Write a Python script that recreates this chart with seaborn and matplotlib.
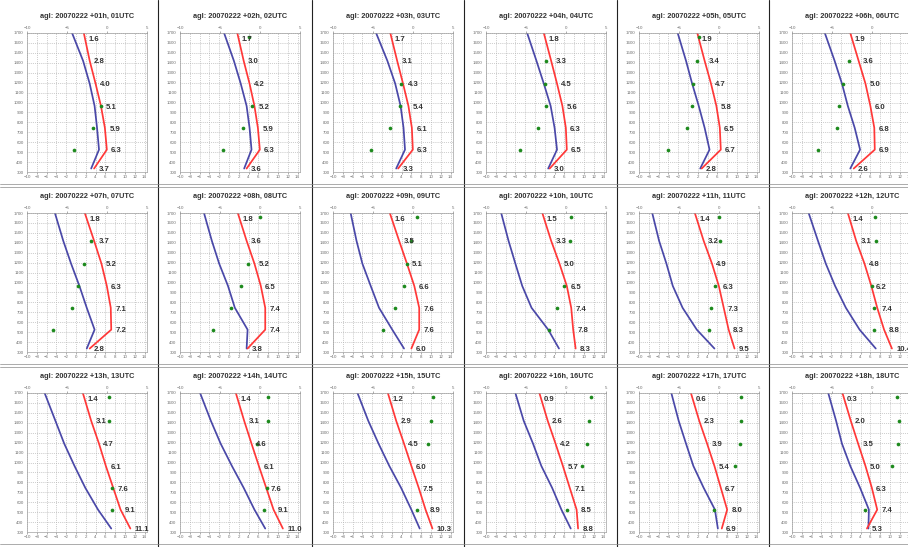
import numpy as np
import matplotlib
matplotlib.use("Agg")
import matplotlib.pyplot as plt
import seaborn as sns
from matplotlib.lines import Line2D

sns.set_theme(style="white")
plt.rcParams['font.family'] = ['Liberation Sans', 'DejaVu Sans']

# ---------------- data ----------------
hours = list(range(1, 19))
levels = [335, 525, 745, 965, 1190, 1420, 1700]          # model levels (m agl)
obs_levels = [525, 745, 965, 1190, 1420, 1655]           # observation heights

red_temp = [
    [3.7, 6.3, 5.9, 5.1, 4.0, 2.8, 1.6],
    [3.6, 6.3, 5.9, 5.2, 4.2, 3.0, 1.7],
    [3.3, 6.3, 6.1, 5.4, 4.3, 3.1, 1.7],
    [3.0, 6.5, 6.3, 5.6, 4.5, 3.3, 1.8],
    [2.8, 6.7, 6.5, 5.8, 4.7, 3.4, 1.9],
    [2.6, 6.9, 6.8, 6.0, 5.0, 3.6, 1.9],
    [2.8, 7.2, 7.1, 6.3, 5.2, 3.7, 1.8],
    [3.8, 7.4, 7.4, 6.5, 5.2, 3.6, 1.8],
    [6.0, 7.6, 7.6, 6.6, 5.1, 3.5, 1.6],
    [8.3, 7.8, 7.4, 6.5, 5.0, 3.3, 1.5],
    [9.5, 8.3, 7.3, 6.3, 4.9, 3.2, 1.4],
    [10.4, 8.8, 7.4, 6.2, 4.8, 3.1, 1.4],
    [11.1, 9.1, 7.6, 6.1, 4.7, 3.1, 1.4],
    [11.0, 9.1, 7.6, 6.1, 4.6, 3.1, 1.4],
    [10.3, 8.9, 7.5, 6.0, 4.5, 2.9, 1.2],
    [8.8, 8.5, 7.1, 5.7, 4.2, 2.6, 0.9],
    [6.9, 8.0, 6.7, 5.4, 3.9, 2.3, 0.6],
    [5.3, 7.4, 6.3, 5.0, 3.5, 2.0, 0.3],
]

blue_temp = [
    [3.1, 4.7, 4.3, 3.8, 2.8, 1.45, -0.8],
    [3.1, 4.6, 4.2, 3.6, 2.4, 1.0, -1.0],
    [2.9, 4.7, 4.4, 3.8, 2.7, 1.1, -1.2],
    [2.7, 4.5, 4.0, 3.2, 1.8, 0.3, -1.6],
    [2.5, 4.4, 3.4, 2.2, 0.85, -0.4, -2.1],
    [1.9, 3.9, 2.8, 1.4, 0.2, -1.3, -3.3],
    [2.2, 3.8, 2.2, 0.7, -1.0, -2.6, -4.3],
    [3.6, 3.8, 1.2, -0.2, -2.0, -3.5, -5.1],
    [4.5, 2.1, -0.6, -2.3, -4.0, -5.2, -6.4],
    [4.9, 2.7, -0.7, -2.6, -4.0, -5.4, -6.9],
    [5.4, 1.8, -1.1, -3.1, -4.4, -5.9, -7.3],
    [7.1, 3.8, 1.0, -1.2, -3.1, -4.7, -6.6],
    [7.2, 4.5, 1.9, -0.3, -2.4, -4.2, -6.4],
    [7.4, 5.2, 3.0, 0.6, -1.7, -3.7, -5.9],
    [7.7, 6.0, 3.9, 1.5, -0.7, -2.8, -5.0],
    [7.3, 5.4, 3.5, 1.3, -0.4, -2.3, -4.0],
    [6.1, 5.5, 3.2, 1.1, -0.4, -1.9, -3.4],
    [5.6, 5.7, 3.9, 1.9, 0.2, -1.0, -2.6],
]

nan = np.nan
green_obs = [
    [-0.45, 3.4, 5.1, nan, nan, nan],
    [-1.2, 2.8, 4.8, nan, nan, 4.1],
    [-2.2, 1.7, 3.7, 3.9, nan, nan],
    [-3.1, 0.6, 2.2, 2.0, 2.3, nan],
    [-4.0, -0.2, 0.85, 1.0, 1.8, 2.3],
    [-4.7, -0.9, -0.4, 0.5, 1.6, nan],
    [-4.6, -0.8, 0.5, 1.6, 3.1, nan],
    [-3.2, 0.4, 2.4, 3.8, nan, 6.4],
    [0.2, 2.6, 4.5, 5.2, 6.0, 7.1],
    [2.9, 4.4, 6.0, nan, 7.1, 7.4],
    [4.2, 4.8, 5.6, nan, 6.5, 6.4],
    [6.8, 6.8, 6.4, nan, 7.1, 6.9],
    [7.4, 7.4, nan, nan, 6.7, 6.7],
    [7.2, 7.7, nan, 5.8, 7.9, 7.9],
    [7.1, nan, nan, 9.4, 10.1, 10.4],
    [6.6, nan, 9.5, 10.6, 11.1, 11.4],
    [5.4, nan, 9.7, 10.7, 10.9, 10.8],
    [5.0, nan, 10.4, 11.6, 11.8, 11.4],
]

x_ticks = list(range(-10, 15, 2))
top_ticks = [-10, -5, 0, 5]
y_ticks = list(range(300, 1701, 100))

# ---------------- styling ----------------
BLUE = '#4a48a8'
RED = '#ff3838'
GREEN = '#1d8a1d'
GRID = '#b0b0b0'
TICKC = '#707070'

W, H = 908, 547
fig = plt.figure(figsize=(W / 100, H / 100), dpi=100)
fig.patch.set_facecolor('white')

for i in range(18):
    r, c = divmod(i, 6)
    left = 27 + 153 * c
    top = 33 + 180 * r
    w, h = 120, 139
    ax = fig.add_axes([left / W, 1 - (top + h) / H, w / W, h / H])

    sns.lineplot(x=blue_temp[i], y=levels, sort=False, estimator=None,
                 color=BLUE, lw=1.25, ax=ax)
    sns.lineplot(x=red_temp[i], y=levels, sort=False, estimator=None,
                 color=RED, lw=1.25, ax=ax)
    sns.scatterplot(x=green_obs[i], y=obs_levels, color=GREEN, s=7,
                    linewidth=0, ax=ax, zorder=5)

    for v, lv in zip(red_temp[i], levels):
        ax.text(v + 0.9, min(lv, 1650) - 12, f"{v:.1f}", fontsize=5.6,
                fontweight='bold', color='#333333', va='center', ha='left',
                zorder=6)

    ax.set_xlim(-10, 14.5)
    ax.set_ylim(300, 1700)
    ax.set_xticks(x_ticks)
    ax.set_yticks(y_ticks)
    ax.grid(True, linestyle=(0, (1, 1.5)), color=GRID, lw=0.55)
    ax.set_axisbelow(True)
    ax.tick_params(axis='both', labelsize=3.2, colors=TICKC, length=1.5,
                   width=0.4, pad=1, direction='out')
    for sp in ax.spines.values():
        sp.set_color('#a0a0a0')
        sp.set_linewidth(0.5)
    ax.set_xlabel('')
    ax.set_ylabel('')

    ax2 = ax.twiny()
    ax2.set_xlim(-10, 5)
    ax2.set_xticks(top_ticks)
    ax2.tick_params(axis='x', labelsize=3.2, colors=TICKC, length=1.5,
                    width=0.4, pad=1)
    for sp in ax2.spines.values():
        sp.set_visible(False)

    fig.text((left + w / 2) / W, 1 - (top - 17) / H,
             f"agl: 20070222 +{hours[i]:02d}h, {hours[i]:02d}UTC",
             ha='center', va='center', fontsize=5.3, fontweight='bold',
             color='#333333')

# panel dividers
for xp in [158, 312, 464, 617, 769]:
    fig.add_artist(Line2D([xp / W, xp / W], [0, 1], color='#222222', lw=0.8))
for yp in [184, 364, 544]:
    for d in (0, 2.5):
        fig.add_artist(Line2D([0, 1], [1 - (yp + d) / H, 1 - (yp + d) / H],
                              color='#8a8a8a', lw=0.5))

fig.savefig('out.png', dpi=100, facecolor='white')
